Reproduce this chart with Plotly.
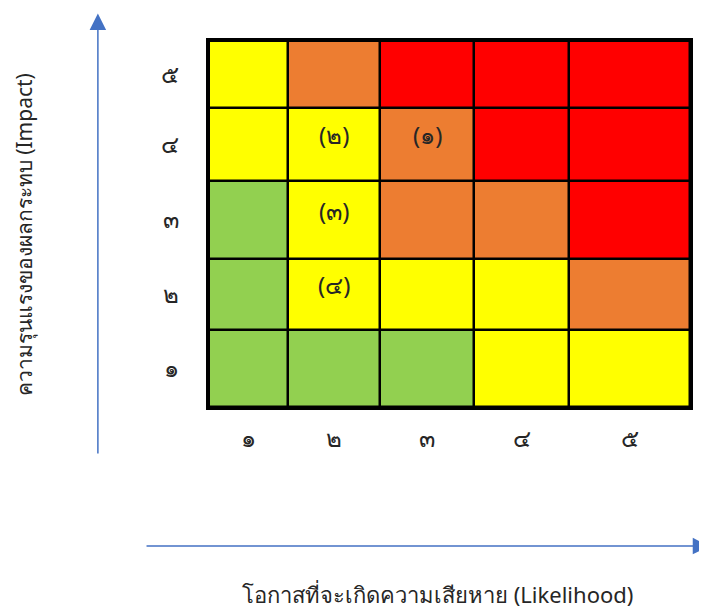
import plotly.graph_objects as go
import numpy as np

# risk matrix data (rows = impact 1..5, cols = likelihood 1..5)
likelihood_labels = ["๑", "๒", "๓", "๔", "๕"]
impact_labels = ["๑", "๒", "๓", "๔", "๕"]
levels = ["green", "yellow", "orange", "red"]
risk_grid = [
    ["green", "green", "green", "yellow", "yellow"],
    ["green", "yellow", "yellow", "yellow", "orange"],
    ["green", "yellow", "orange", "orange", "red"],
    ["yellow", "yellow", "orange", "red", "red"],
    ["yellow", "orange", "red", "red", "red"],
]
# risk items: (likelihood index, impact index, label)
item_likelihood = [2, 1, 1, 1]
item_impact = [3, 3, 2, 1]
item_labels = ["(๑)", "(๒)", "(๓)", "(๔)"]

# cell sizes as drawn in the reference (pixels)
col_widths = [79, 92, 94, 95, 121]
row_heights = [77, 71, 78, 73, 67]

level_colors = {"green": "#92D050", "yellow": "#FFFF00", "orange": "#ED7D31", "red": "#FF0000"}
x_edges = np.concatenate([[0], np.cumsum(col_widths)])
y_edges = np.concatenate([[0], np.cumsum(row_heights)])
x_mid = (x_edges[:-1] + x_edges[1:]) / 2
y_mid = (y_edges[:-1] + y_edges[1:]) / 2

z = [[levels.index(c) for c in row] for row in risk_grid]
n = len(levels)
colorscale = []
for i, lv in enumerate(levels):
    colorscale.append([i / n, level_colors[lv]])
    colorscale.append([(i + 1) / n, level_colors[lv]])

FONT = "Noto Sans, Leelawadee UI, sans-serif"
TXT = "#262626"
ARROW = "#4472C4"

fig = go.Figure(go.Heatmap(
    x=x_edges, y=y_edges, z=z, zmin=-0.5, zmax=n - 0.5,
    colorscale=colorscale, showscale=False, xgap=2.5, ygap=2.5, hoverinfo="skip"))

for li, ii, lab in zip(item_likelihood, item_impact, item_labels):
    fig.add_annotation(x=x_mid[li], y=y_mid[ii] + 10, text=lab, showarrow=False,
                       font=dict(size=24, color=TXT, family=FONT))

# blue arrows
arrow_ref = dict(xref="x domain", yref="y domain", axref="x domain", ayref="y domain",
                 showarrow=True, arrowhead=2, arrowsize=2.2, arrowwidth=1.5,
                 arrowcolor=ARROW, text="")
fig.add_annotation(x=-0.231, y=1.075, ax=-0.231, ay=-0.131, **arrow_ref)
fig.add_annotation(x=1.04, y=-0.38, ax=-0.133, ay=-0.38, **arrow_ref)

fig.add_annotation(xref="paper", yref="paper", x=-0.384, y=0.47, xanchor="center", yanchor="middle",
                   text="ความรุนแรงของผลกระทบ (Impact)", textangle=-90, showarrow=False,
                   font=dict(size=21, color=TXT, family=FONT))
fig.add_annotation(xref="paper", yref="paper", x=0.476, y=-0.512, xanchor="center", yanchor="middle",
                   text="โอกาสที่จะเกิดความเสียหาย (Likelihood)", showarrow=False,
                   font=dict(size=22, color=TXT, family=FONT))

fig.update_xaxes(range=[0, x_edges[-1]], tickvals=x_mid, ticktext=likelihood_labels,
                 ticks="outside", ticklen=8, tickcolor="rgba(0,0,0,0)",
                 showgrid=False, zeroline=False, showline=True, mirror=True,
                 linecolor="black", linewidth=2.5, tickfont=dict(size=24, color=TXT, family=FONT))
fig.update_yaxes(range=[0, y_edges[-1]], tickvals=y_mid, ticktext=impact_labels,
                 ticks="outside", ticklen=22, tickcolor="rgba(0,0,0,0)",
                 showgrid=False, zeroline=False, showline=True, mirror=True,
                 linecolor="black", linewidth=2.5, tickfont=dict(size=24, color=TXT, family=FONT))

# page body has an 8px default margin, so shrink the figure to keep the grid in place
fig.update_layout(width=699, height=602, plot_bgcolor="black", paper_bgcolor="white",
                  margin=dict(l=201, r=17, t=33, b=203), showlegend=False)

fig.write_html("out.html")
